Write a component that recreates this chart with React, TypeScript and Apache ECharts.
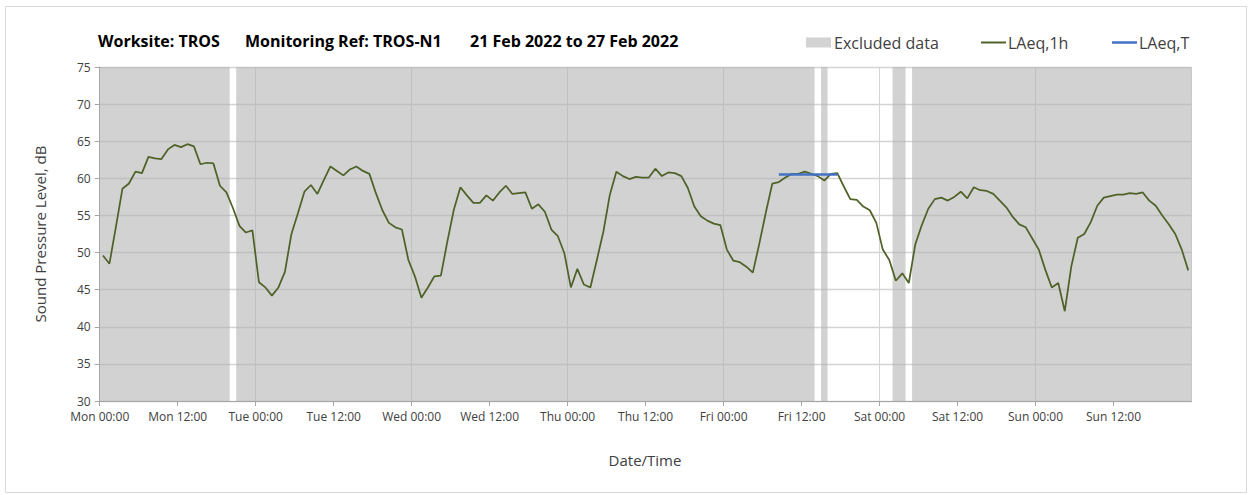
import React, { useEffect, useRef } from "react";
import * as echarts from "echarts";

// ---- Data ----
const dayNames = ["Mon", "Tue", "Wed", "Thu", "Fri", "Sat", "Sun"];
const halfDayTimes = ["00:00", "12:00"];

// Hourly LAeq,1h values (dB), Mon 00:00 .. Sun 23:00
const laeq1h = [
  49.6, 48.5, 53.5, 58.6, 59.3, 60.9, 60.7, 62.9, 62.7, 62.6, 63.9, 64.5,
  64.2, 64.6, 64.3, 61.9, 62.1, 62.0, 59.0, 58.1, 56.0, 53.6, 52.7, 53.0,
  46.0, 45.3, 44.2, 45.3, 47.4, 52.5, 55.3, 58.2, 59.1, 57.9, 59.8, 61.6,
  61.0, 60.4, 61.2, 61.6, 61.0, 60.6, 58.0, 55.7, 54.0, 53.4, 53.1, 49.0,
  46.8, 43.9, 45.3, 46.8, 46.9, 51.5, 55.8, 58.8, 57.7, 56.7, 56.7, 57.7,
  57.0, 58.1, 59.0, 57.9, 58.0, 58.1, 55.9, 56.5, 55.5, 53.1, 52.2, 49.9,
  45.3, 47.8, 45.7, 45.3, 49.0, 52.8, 57.8, 60.9, 60.3, 59.9, 60.2, 60.1,
  60.1, 61.3, 60.3, 60.8, 60.7, 60.3, 58.7, 56.2, 54.9, 54.3, 53.9, 53.7,
  50.4, 48.9, 48.7, 48.1, 47.3, 51.2, 55.4, 59.3, 59.5, 60.1, 60.6, 60.6,
  60.9, 60.6, 60.3, 59.7, 60.6, 60.7, 58.9, 57.2, 57.1, 56.2, 55.7, 54.0,
  50.4, 49.0, 46.2, 47.2, 45.9, 51.1, 53.7, 55.9, 57.2, 57.4, 57.0, 57.5,
  58.2, 57.3, 58.8, 58.4, 58.3, 57.9, 57.0, 56.1, 54.8, 53.8, 53.4, 51.9,
  50.4, 47.7, 45.3, 45.9, 42.1, 48.1, 52.0, 52.5, 54.1, 56.3, 57.4, 57.6,
  57.8, 57.8, 58.0, 57.9, 58.1, 57.0, 56.3, 55.0, 53.8, 52.5, 50.4, 47.6,
];

// LAeq,T over the measurement period (hour indices, inclusive)
const laeqTStartHour = 104;
const laeqTEndHour = 113;
const laeqTValue = 60.5;

// Excluded data periods, [start hour, end hour) from Mon 00:00
const excludedRanges = [
  [0, 20],
  [21, 110],
  [111, 112],
  [122, 124],
  [125, 168],
];

const FONT = "'Open Sans', sans-serif";

export default function App() {
  const ref = useRef<HTMLDivElement>(null);

  useEffect(() => {
    if (!ref.current) return;
    const chart = echarts.init(ref.current, null, { renderer: "svg" });

    const lineData = laeq1h.map((v, i) => [i + 0.5, v]);
    const tData: number[][] = [];
    for (let h = laeqTStartHour; h <= laeqTEndHour; h++) tData.push([h + 0.5, laeqTValue]);

    const totalHours = dayNames.length * 24;

    const option: any = {
      animation: false,
      backgroundColor: "#ffffff",
      textStyle: { fontFamily: FONT },
      grid: { left: 99.7, right: 1251 - 1191.5, top: 67, bottom: 495 - 401, containLabel: false },
      xAxis: [
        {
          type: "value",
          min: 0,
          max: totalHours,
          interval: 12,
          axisLine: { show: true, lineStyle: { color: "#a6a6a6", width: 1 } },
          axisTick: { show: true, length: 5, lineStyle: { color: "#a6a6a6" } },
          splitLine: { show: false },
          axisLabel: {
            show: true,
            margin: 9,
            color: "#404040",
            fontSize: 12,
            fontFamily: FONT,
            showMaxLabel: false,
            formatter: (v: number) => {
              if (v >= totalHours) return "";
              const d = Math.floor(v / 24);
              const t = Math.round((v % 24) / 12);
              return dayNames[d] + " " + halfDayTimes[t];
            },
          },
        },
        {
          type: "value",
          min: 0,
          max: totalHours,
          interval: 24,
          position: "bottom",
          axisLine: { show: false },
          axisTick: { show: false },
          axisLabel: { show: false },
          splitLine: { show: true, lineStyle: { color: "#d4d4d4", width: 1 } },
        },
      ],
      yAxis: {
        type: "value",
        min: 30,
        max: 75,
        interval: 5,
        axisLine: { show: true, lineStyle: { color: "#a6a6a6", width: 1 } },
        axisTick: { show: true, length: 5, lineStyle: { color: "#a6a6a6" } },
        splitLine: { show: true, lineStyle: { color: "#d4d4d4", width: 1.3 } },
        axisLabel: { color: "#404040", fontSize: 12, margin: 9, fontFamily: FONT },
      },
      series: [
        {
          name: "Excluded data",
          type: "line",
          xAxisIndex: 0,
          z: 1,
          data: lineData,
          symbol: "none",
          silent: true,
          lineStyle: { opacity: 0, width: 0 },
          markArea: {
            silent: true,
            itemStyle: { color: "rgba(178,178,178,0.58)" },
            data: excludedRanges.map(([a, b]) => [{ xAxis: a }, { xAxis: b }]),
          },
        },
        {
          name: "LAeq,1h",
          type: "line",
          xAxisIndex: 0,
          z: 3,
          data: lineData,
          symbol: "none",
          lineStyle: { color: "#4f6228", width: 1.75 },
        },
        {
          name: "LAeq,T",
          type: "line",
          xAxisIndex: 0,
          z: 4,
          data: tData,
          symbol: "none",
          lineStyle: { color: "#4472c4", width: 2.5 },
        },
      ],
      graphic: [
        {
          type: "rect",
          silent: true,
          shape: { x: 5.5, y: 6.5, width: 1241, height: 486 },
          style: { fill: "none", stroke: "#d9d9d9", lineWidth: 1 },
        },
        {
          type: "text",
          x: 98,
          y: 41,
          style: { text: "Worksite: TROS", font: `bold 16px ${FONT}`, fill: "#000", textVerticalAlign: "middle" },
        },
        {
          type: "text",
          x: 245,
          y: 41,
          style: { text: "Monitoring Ref: TROS-N1", font: `bold 16px ${FONT}`, fill: "#000", textVerticalAlign: "middle" },
        },
        {
          type: "text",
          x: 470,
          y: 41,
          style: { text: "21 Feb 2022 to 27 Feb 2022", font: `bold 16px ${FONT}`, fill: "#000", textVerticalAlign: "middle" },
        },
        // legend
        {
          type: "rect",
          shape: { x: 806, y: 37.5, width: 25, height: 10 },
          style: { fill: "#d3d3d3" },
        },
        {
          type: "text",
          x: 834,
          y: 42.5,
          style: { text: "Excluded data", font: `16px ${FONT}`, fill: "#404040", textVerticalAlign: "middle" },
        },
        {
          type: "line",
          shape: { x1: 981, y1: 42.5, x2: 1006, y2: 42.5 },
          style: { stroke: "#4f6228", lineWidth: 2 },
        },
        {
          type: "text",
          x: 1008,
          y: 42.5,
          style: { text: "LAeq,1h", font: `16px ${FONT}`, fill: "#404040", textVerticalAlign: "middle" },
        },
        {
          type: "line",
          shape: { x1: 1112, y1: 42.5, x2: 1137, y2: 42.5 },
          style: { stroke: "#4472c4", lineWidth: 2.5 },
        },
        {
          type: "text",
          x: 1139,
          y: 42.5,
          style: { text: "LAeq,T", font: `16px ${FONT}`, fill: "#404040", textVerticalAlign: "middle" },
        },
        // axis names
        {
          type: "text",
          x: 40,
          y: 234,
          rotation: Math.PI / 2,
          style: {
            text: "Sound Pressure Level, dB",
            font: `15px ${FONT}`,
            fill: "#404040",
            textAlign: "center",
            textVerticalAlign: "middle",
          },
        },
        {
          type: "text",
          x: 645,
          y: 460,
          style: {
            text: "Date/Time",
            font: `15px ${FONT}`,
            fill: "#404040",
            textAlign: "center",
            textVerticalAlign: "middle",
          },
        },
      ],
    };

    chart.setOption(option);
    return () => chart.dispose();
  }, []);

  return (
    <div
      ref={ref}
      style={{ position: "fixed", left: 0, top: 0, width: 1251, height: 495, background: "#ffffff" }}
    />
  );
}
